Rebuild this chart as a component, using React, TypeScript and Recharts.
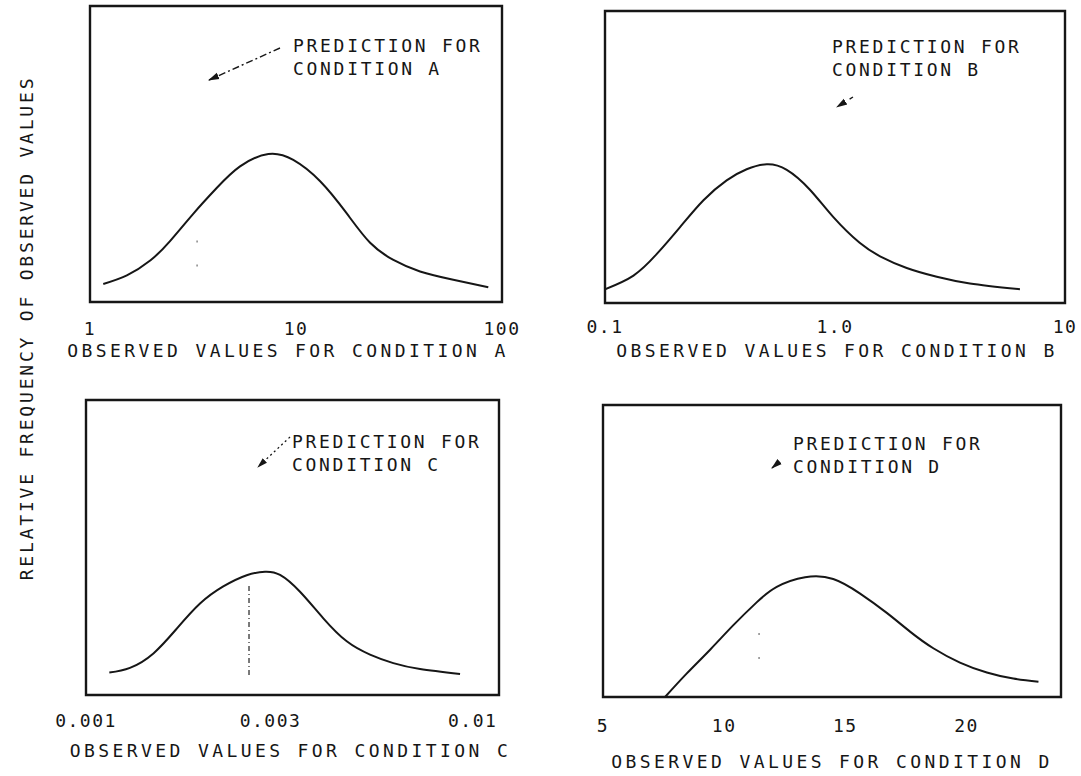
import { LineChart, Line, XAxis, YAxis, ReferenceArea, ReferenceLine } from "recharts";

const FONT = '"DejaVu Sans Mono", "Liberation Mono", monospace';
const INK = "#161616";

// condition A (log axis 1..100)
const aX = [1.16, 1.51, 1.96, 2.44, 3.17, 4.12, 5.35, 7.34, 9.7, 13.1, 17.6, 22.9, 29.7, 40, 58, 85.8];
const aY = [0.061, 0.09, 0.14, 0.205, 0.298, 0.385, 0.458, 0.5, 0.48, 0.408, 0.3, 0.2, 0.142, 0.103, 0.075, 0.05];
const aTicks = [1, 10, 100];
const aTickLabels = ["1", "10", "100"];

// condition B (log axis 0.1..10)
const bX = [0.1, 0.133, 0.168, 0.212, 0.268, 0.338, 0.413, 0.505, 0.617, 0.778, 0.984, 1.28, 1.57, 2.05, 2.77, 3.86, 6.37];
const bY = [0.047, 0.094, 0.168, 0.26, 0.352, 0.42, 0.458, 0.475, 0.456, 0.388, 0.294, 0.206, 0.16, 0.12, 0.09, 0.067, 0.047];
const bTicks = [0.1, 1, 10];
const bTickLabels = ["0.1", "1.0", "10"];

// condition C (log axis 0.001..~0.0117)
const cX = [0.001149, 0.001299, 0.001494, 0.001717, 0.001972, 0.002265, 0.002604, 0.002904, 0.003176, 0.003577, 0.00411, 0.004725, 0.005428, 0.006235, 0.007311, 0.009278];
const cY = [0.076, 0.092, 0.141, 0.225, 0.31, 0.368, 0.406, 0.418, 0.407, 0.35, 0.26, 0.182, 0.137, 0.108, 0.088, 0.071];
const cTicks = [0.001, 0.003, 0.01];
const cTickLabels = ["0.001", "0.003", "0.01"];

// condition D (linear axis 5..~23.9)
const dX = [7.56, 8.45, 9.42, 10.38, 11.34, 12.17, 13.34, 14.5, 15.61, 16.71, 17.67, 18.63, 19.73, 20.84, 21.93, 22.97];
const dY = [0, 0.08, 0.162, 0.246, 0.324, 0.377, 0.41, 0.404, 0.354, 0.288, 0.224, 0.167, 0.118, 0.084, 0.063, 0.052];
const dTicks = [5, 10, 15, 20];
const dTickLabels = ["5", "10", "15", "20"];

// faint vertical guide marks under the curves
const aGuide = { x: 3.31, y1: 0.12, y2: 0.215 };
const cGuide = { x: 0.00264, y1: 0.068, y2: 0.38 };
const dGuide = { x: 11.44, y1: 0.13, y2: 0.245 };

const zip = (xs: number[], ys: number[]) => xs.map((x, i) => ({ x, y: ys[i] }));

type PanelProps = {
  left: number;
  top: number;
  width: number;
  height: number;
  margin: { top: number; right: number; bottom: number; left: number };
  xs: number[];
  ys: number[];
  domain: [number, number];
  log: boolean;
  ticks: number[];
  tickLabels: string[];
  title: string;
  axisHeight: number;
  tickMargin: number;
  titleOffset: number;
  titleDx: number;
  guide?: { x: number; y1: number; y2: number };
  guideStyle?: { stroke: string; dash: string };
};

function Panel(p: PanelProps) {
  const data = zip(p.xs, p.ys);
  return (
    <div style={{ position: "absolute", left: p.left, top: p.top }}>
      <LineChart width={p.width} height={p.height} data={data} margin={p.margin}>
        <XAxis
          dataKey="x"
          type="number"
          scale={p.log ? "log" : "linear"}
          domain={p.domain}
          allowDataOverflow
          ticks={p.ticks}
          interval={0}
          tickFormatter={(v: number) => p.tickLabels[p.ticks.indexOf(v)] ?? String(v)}
          axisLine={false}
          tickLine={false}
          height={p.axisHeight}
          tickMargin={p.tickMargin}
          tick={{ fontSize: 18, fill: INK, fontFamily: FONT, letterSpacing: 1.5 }}
          label={{
            value: p.title,
            position: "insideBottom",
            offset: p.titleOffset,
            dx: p.titleDx,
            style: { fontSize: 18, fill: INK, fontFamily: FONT, letterSpacing: 3.4 },
          }}
        />
        <YAxis type="number" domain={[0, 1]} hide />
        <ReferenceArea
          x1={p.domain[0]}
          x2={p.domain[1]}
          y1={0}
          y2={1}
          fill="none"
          fillOpacity={0}
          stroke={INK}
          strokeWidth={2.4}
        />
        {p.guide && p.guideStyle && (
          <ReferenceLine
            segment={[
              { x: p.guide.x, y: p.guide.y1 },
              { x: p.guide.x, y: p.guide.y2 },
            ]}
            stroke={p.guideStyle.stroke}
            strokeWidth={1.3}
            strokeDasharray={p.guideStyle.dash}
          />
        )}
        <Line
          type="natural"
          dataKey="y"
          stroke={INK}
          strokeWidth={2}
          dot={false}
          isAnimationActive={false}
        />
      </LineChart>
    </div>
  );
}

const faint = { stroke: "#777", dash: "2 22" };
const dotted = { stroke: "#333", dash: "5 3 1 3" };

function Annotation({ x, y, lines }: { x: number; y: number; lines: string[] }) {
  return (
    <text x={x} y={y} fontFamily={FONT} fontSize={18} fill={INK} letterSpacing={2.7}>
      {lines.map((l, i) => (
        <tspan key={i} x={x} dy={i === 0 ? 0 : 23}>
          {l}
        </tspan>
      ))}
    </text>
  );
}

export default function App() {
  return (
    <div style={{ position: "absolute", left: 0, top: 0, width: 1081, height: 776, background: "#fff", overflow: "hidden" }}>
      <Panel
        left={60}
        top={0}
        width={470}
        height={372}
        margin={{ top: 6, right: 28, bottom: 10, left: 30 }}
        xs={aX}
        ys={aY}
        domain={[1, 100]}
        log
        ticks={aTicks}
        tickLabels={aTickLabels}
        title="OBSERVED VALUES FOR CONDITION A"
        axisHeight={60}
        tickMargin={14}
        titleOffset={5}
        titleDx={-8}
        guide={aGuide}
        guideStyle={faint}
      />
      <Panel
        left={570}
        top={0}
        width={511}
        height={372}
        margin={{ top: 11, right: 16, bottom: 9, left: 35 }}
        xs={bX}
        ys={bY}
        domain={[0.1, 10]}
        log
        ticks={bTicks}
        tickLabels={bTickLabels}
        title="OBSERVED VALUES FOR CONDITION B"
        axisHeight={60}
        tickMargin={11}
        titleOffset={6}
        titleDx={2}
      />
      <Panel
        left={40}
        top={372}
        width={490}
        height={404}
        margin={{ top: 28, right: 31, bottom: 11, left: 46 }}
        xs={cX}
        ys={cY}
        domain={[0.001, 0.0117]}
        log
        ticks={cTicks}
        tickLabels={cTickLabels}
        title="OBSERVED VALUES FOR CONDITION C"
        axisHeight={70}
        tickMargin={13}
        titleOffset={8}
        titleDx={-2}
        guide={cGuide}
        guideStyle={dotted}
      />
      <Panel
        left={570}
        top={372}
        width={511}
        height={404}
        margin={{ top: 33, right: 20, bottom: 5, left: 33 }}
        xs={dX}
        ys={dY}
        domain={[5, 23.9]}
        log={false}
        ticks={dTicks}
        tickLabels={dTickLabels}
        title="OBSERVED VALUES FOR CONDITION D"
        axisHeight={74}
        tickMargin={16}
        titleOffset={3}
        titleDx={0}
        guide={dGuide}
        guideStyle={faint}
      />
      <svg
        width={1081}
        height={776}
        style={{ position: "absolute", left: 0, top: 0, pointerEvents: "none" }}
      >
        <defs>
          <marker id="head" viewBox="0 0 10 10" refX="9" refY="5" markerWidth="8" markerHeight="8" orient="auto">
            <path d="M0,2 L10,5 L0,8 z" fill={INK} />
          </marker>
        </defs>
        <text
          transform="translate(33,328) rotate(-90)"
          textAnchor="middle"
          fontFamily={FONT}
          fontSize={18}
          fill={INK}
          letterSpacing={2.8}
        >
          RELATIVE FREQUENCY OF OBSERVED VALUES
        </text>
        <Annotation x={293} y={52} lines={["PREDICTION FOR", "CONDITION A"]} />
        <Annotation x={832} y={53} lines={["PREDICTION FOR", "CONDITION B"]} />
        <Annotation x={292} y={448} lines={["PREDICTION FOR", "CONDITION C"]} />
        <Annotation x={793} y={450} lines={["PREDICTION FOR", "CONDITION D"]} />
        <line x1={280} y1={48} x2={209} y2={80} stroke={INK} strokeWidth={1.4} strokeDasharray="7 3 2 3" markerEnd="url(#head)" />
        <line x1={853} y1={97} x2={837} y2={107} stroke={INK} strokeWidth={1.4} strokeDasharray="4 6" markerEnd="url(#head)" />
        <line x1={290} y1={437} x2={258} y2={467} stroke={INK} strokeWidth={1.3} strokeDasharray="2 3" markerEnd="url(#head)" />
        <line x1={779} y1={462} x2={772} y2={468} stroke={INK} strokeWidth={1.4} markerEnd="url(#head)" />
      </svg>
    </div>
  );
}
